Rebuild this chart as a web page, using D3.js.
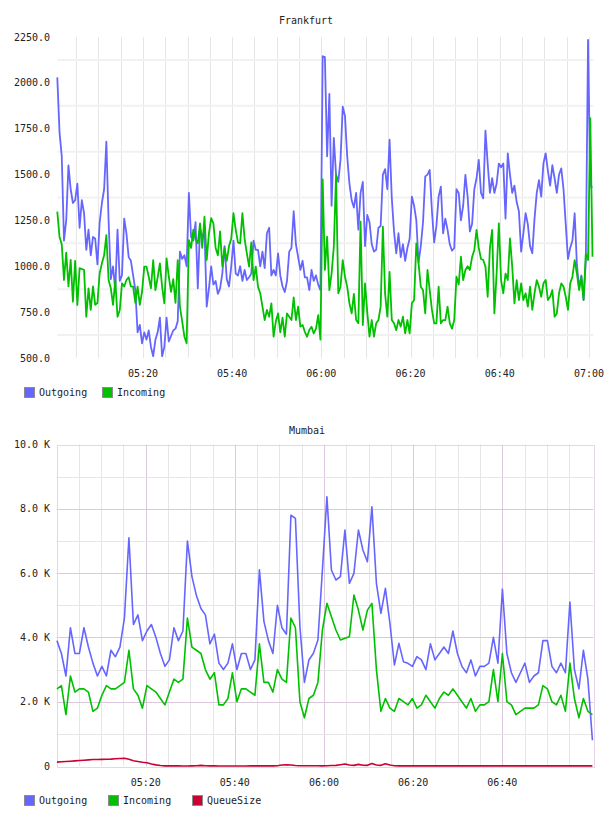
<!DOCTYPE html>
<html><head><meta charset="utf-8">
<script src="https://cdn.jsdelivr.net/npm/d3@7"></script>
<style>
body{margin:0;background:#fff}
svg{display:block}
text{font-family:"DejaVu Sans Mono",monospace;font-size:10px;fill:#222}
</style>
</head><body>
<svg id="c" width="608" height="816"></svg>
<script>
// ---------- Frankfurt (30 s samples) ----------
const frankfurtStart = "05:00:48";
const frankfurtEnd = "07:00:48";
const frankfurtStepSec = 30;
const frankfurtOutgoing = [
2030,1730,1600,1140,1250,1550,1420,1345,1360,1450,
1210,1360,1290,1090,1200,1060,1160,1150,1010,1240,
1345,1420,1680,1250,930,1000,870,1200,920,950,
1260,1180,1050,1030,950,870,640,680,580,640,
600,650,560,510,600,640,720,510,560,720,
590,620,650,660,700,1080,1040,1060,1000,1400,
1160,1140,1240,880,1210,1150,1200,780,880,1000,
900,920,850,880,960,1110,930,890,1000,1140,
960,950,1000,920,980,925,940,960,1140,1090,
1090,1000,1080,990,1180,1210,950,980,950,1070,
950,890,860,920,1080,1100,1300,1120,1050,980,
1030,940,940,870,980,920,950,900,870,2145,
2140,1600,1940,1330,1700,1500,1460,1580,1870,1820,
1600,1450,1360,1320,1400,1200,1400,1460,1110,1280,
1240,1120,1080,1090,1210,1220,1500,1530,1420,1690,
1370,1190,1070,1180,1050,1120,1030,1100,1150,1380,
1330,1250,1020,1110,1240,1490,1500,1525,1300,1130,
1220,1380,1434,1180,1260,1200,1120,1085,1100,1420,
1400,1250,1330,1498,1380,1190,1230,1420,1480,1580,
1400,1370,1740,1560,1400,1480,1400,1450,1560,1540,
1560,1260,1616,1500,1400,1440,1350,1300,1080,1180,
1290,1230,1110,1071,1260,1400,1470,1380,1561,1616,
1520,1440,1552,1480,1400,1500,1534,1420,1230,1040,
1100,1140,1289,1010,880,950,816,1030,2234,1434,
1430];
const frankfurtIncoming = [
1298,1160,1120,925,1075,890,1035,807,1030,789,
990,985,980,725,880,762,890,790,800,962,
1016,1060,1170,925,880,790,925,725,760,907,
890,925,940,890,889,800,889,790,860,998,
998,943,880,1034,870,940,1016,889,798,1043,
943,860,930,800,1034,780,700,616,580,1143,
1100,1200,1150,1125,1234,1100,1270,1034,1180,1262,
1234,1100,1060,1190,1000,1100,1030,1110,1150,1290,
1200,1130,1125,1290,1150,1070,998,1130,925,998,
889,853,780,707,762,725,798,616,700,743,
640,720,616,743,725,707,830,707,780,671,
680,643,616,653,670,634,660,734,600,1474,
980,1161,870,960,1107,1498,853,889,1034,943,
889,798,743,850,707,690,1243,680,907,750,
616,707,616,690,707,780,1216,850,725,970,
707,689,652,707,671,725,634,707,634,798,
816,1125,1016,889,870,743,980,870,762,689,
689,889,689,707,707,780,689,660,707,943,
900,1052,925,980,1000,980,1050,1089,1198,1100,
1040,1034,998,834,1100,1198,743,960,1234,925,
853,960,925,1152,998,798,925,816,907,816,
853,780,889,762,853,925,889,834,907,925,
816,834,870,725,743,853,907,889,834,762,
907,943,1034,960,870,943,816,1070,1034,1807,
1052];
const frankfurtYTicks = [500,750,1000,1250,1500,1750,2000,2250];
const frankfurtXTicks = ["05:20","05:40","06:00","06:20","06:40","07:00"];

// ---------- Mumbai (about 1 min samples) ----------
const mumbaiAxisStart = "05:00:00";
const mumbaiAxisEnd = "07:00:00";
const mumbaiStart = "05:00:05";
const mumbaiStepSec = 60.57;
const mumbaiOutgoing = [
3900,3500,2800,4300,3500,3500,4300,3700,3200,2800,
3100,2800,3600,3400,3700,4600,7100,4400,4700,3900,
4200,4400,4000,3500,3100,3300,4300,3900,4200,7000,
5900,5300,4900,4700,3800,4100,3200,3000,3200,3800,
3000,3500,3500,3000,3300,6100,4500,3900,3500,5000,
4300,4100,7800,7700,4333,2600,3297,3505,3919,6096,
8375,6096,5785,5888,7340,5682,5993,7340,6718,6355,
8064,5682,4749,5527,4438,3141,3816,3245,3193,3100,
3400,3300,3000,3800,3300,3500,3700,3500,4200,3500,
3100,2900,3300,2800,3100,3100,3200,4000,3200,5500,
3500,2900,2600,2900,3200,2600,2800,2900,3900,3900,
3100,2900,3200,2900,5100,3000,2400,3600,2700,800];
const mumbaiIncoming = [
2400,2500,1600,2800,2300,2400,2400,2300,1700,1800,
2200,2500,2400,2400,2500,2600,3600,2400,2200,1800,
2500,2400,2300,2100,1900,2300,2700,2600,2700,4600,
3700,3600,3500,3000,2700,2900,1900,1900,2100,2900,
2000,2400,2400,2300,2200,3800,2600,2600,2300,3000,
2700,2600,4600,4300,2000,1500,2100,2200,2600,4230,
5060,4640,4230,3920,3970,4020,5320,4850,4230,4850,
5060,3000,1700,2100,1800,1700,2100,2000,1900,2100,
1800,1900,2200,2000,1800,2100,2300,2200,2400,2200,
2000,1800,2100,1700,1900,1900,2000,3000,2000,3500,
2000,1900,1600,1700,1800,1800,1800,1900,2500,2400,
2000,1900,2200,1700,3200,2100,1500,2100,1700,1600];
const mumbaiQueueSize = [
120,130,140,150,160,170,180,190,200,200,
205,210,215,225,235,240,210,165,140,115,
100,65,35,15,5,4,3,3,2,2,
5,10,20,10,4,3,2,2,2,2,
2,2,2,3,3,3,3,4,5,10,
30,40,30,15,8,6,10,10,6,5,
8,15,20,40,60,30,20,50,25,20,
80,30,20,70,30,10,5,4,3,3,
3,3,3,3,3,3,3,3,5,5,
3,3,3,3,3,3,3,3,3,3,
3,3,3,3,3,3,3,3,3,3,
3,3,3,3,3,3,3,3,3,3];
const mumbaiYTicks = [0,2000,4000,6000,8000,10000];
const mumbaiYLabels = ["0","2.0 K","4.0 K","6.0 K","8.0 K","10.0 K"];
const mumbaiXTicks = ["05:20","05:40","06:00","06:20","06:40"];

const seriesColors = {Outgoing:"#6666ff", Incoming:"#00c000", QueueSize:"#cc0033"};

// ---------- helpers ----------
const parseT = d3.timeParse("%H:%M:%S");
const parseHM = d3.timeParse("%H:%M");
function times(start, step, n){
  const t0 = parseT(start).getTime();
  return d3.range(n).map(i => new Date(t0 + i*step*1000));
}
const svg = d3.select("#c");

function legend(g, names, xs, y){
  names.forEach((n,i)=>{
    g.append("rect").attr("x",xs[i]+0.5).attr("y",y+0.5).attr("width",10).attr("height",10)
      .attr("fill",seriesColors[n]).attr("stroke","#8c8c8c").attr("stroke-width",1);
    g.append("text").attr("x",xs[i]+15).attr("y",y+5.5).attr("dy","0.35em").text(n);
  });
}

// ---------- Frankfurt ----------
(function(){
  const L=57.3, R=592.5, T=37, B=358;
  const x = d3.scaleTime().domain([parseT(frankfurtStart), parseT(frankfurtEnd)]).range([L,R]);
  const y = d3.scaleLinear().domain([frankfurtYTicks[0], frankfurtYTicks[frankfurtYTicks.length-1]]).range([B,T]);
  const g = svg.append("g");
  g.append("text").attr("x",306).attr("y",20).attr("dy","0.35em").attr("text-anchor","middle").text("Frankfurt");
  // grid
  const vt = x.ticks(d3.timeMinute.every(5));
  g.selectAll(".vg").data(vt).join("line")
    .attr("x1",d=>Math.round(x(d))+0.5).attr("x2",d=>Math.round(x(d))+0.5)
    .attr("y1",T).attr("y2",B).attr("stroke","#e6e6e6").attr("stroke-width",1);
  const mids = d3.pairs(frankfurtYTicks).map(([a,b])=>(a+b)/2);
  g.selectAll(".hg").data(mids).join("line")
    .attr("x1",L).attr("x2",R+1).attr("y1",d=>y(d)).attr("y2",d=>y(d))
    .attr("stroke","#f1f1f1").attr("stroke-width",2);
  // axes labels
  g.selectAll(".yl").data(frankfurtYTicks).join("text")
    .attr("x",50).attr("y",d=>y(d)).attr("dy","0.35em").attr("text-anchor","end")
    .text(d=>d3.format(".1f")(d));
  g.selectAll(".xl").data(frankfurtXTicks).join("text")
    .attr("x",d=>x(new Date(parseHM(d).getTime()))).attr("y",373).attr("dy","0.35em")
    .attr("text-anchor","middle").text(d=>d);
  // lines
  const ts = times(frankfurtStart, frankfurtStepSec, frankfurtOutgoing.length);
  const line = d3.line().x((d,i)=>x(ts[i])).y(d=>y(d));
  g.append("path").datum(frankfurtOutgoing).attr("d",line).attr("fill","none")
    .attr("stroke",seriesColors.Outgoing).attr("stroke-width",1.8).attr("stroke-linejoin","round");
  g.append("path").datum(frankfurtIncoming).attr("d",line).attr("fill","none")
    .attr("stroke",seriesColors.Incoming).attr("stroke-width",1.8).attr("stroke-linejoin","round");
  legend(g, ["Outgoing","Incoming"], [24,102], 387);
})();

// ---------- Mumbai ----------
(function(){
  const L=56.55, R=591.45, T=444.5, B=766, RE=593.3;
  const x = d3.scaleTime().domain([parseT(mumbaiAxisStart), parseT(mumbaiAxisEnd)]).range([L,R]);
  const y = d3.scaleLinear().domain([mumbaiYTicks[0], mumbaiYTicks[mumbaiYTicks.length-1]]).range([B,T]);
  const g = svg.append("g");
  g.append("text").attr("x",307).attr("y",430).attr("dy","0.35em").attr("text-anchor","middle").text("Mumbai");
  const vt = x.ticks(d3.timeMinute.every(5)).filter(d=>x(d)>L+2 && x(d)<R-1);
  g.selectAll(".vg").data(vt).join("line")
    .attr("x1",d=>Math.round(x(d))+0.5).attr("x2",d=>Math.round(x(d))+0.5)
    .attr("y1",T).attr("y2",B)
    .attr("stroke",d=>d.getMinutes()%20===0?"#dcc8dc":"#e6e6e6").attr("stroke-width",1);
  const hv = d3.range(1000,10000,1000);
  g.selectAll(".hg").data(hv).join("line")
    .attr("x1",L).attr("x2",RE).attr("y1",d=>Math.round(y(d))+0.5).attr("y2",d=>Math.round(y(d))+0.5)
    .attr("stroke",d=>d%2000===0?"#dcc8dc":"#e6e6e6").attr("stroke-width",1);
  g.append("rect").attr("x",Math.round(L)+0.5).attr("y",Math.round(T)+0.5)
    .attr("width",Math.round(RE-L)).attr("height",Math.round(B-T))
    .attr("fill","none").attr("stroke","#e8d4e8").attr("stroke-width",1);
  g.selectAll(".yl").data(mumbaiYTicks).join("text")
    .attr("x",50).attr("y",d=>y(d)).attr("dy","0.35em").attr("text-anchor","end")
    .text((d,i)=>mumbaiYLabels[i]);
  g.selectAll(".xl").data(mumbaiXTicks).join("text")
    .attr("x",d=>x(parseHM(d))).attr("y",782).attr("dy","0.35em")
    .attr("text-anchor","middle").text(d=>d);
  const ts = times(mumbaiStart, mumbaiStepSec, mumbaiOutgoing.length);
  const line = d3.line().x((d,i)=>x(ts[i])).y(d=>y(d));
  [["Outgoing",mumbaiOutgoing],["Incoming",mumbaiIncoming],["QueueSize",mumbaiQueueSize]].forEach(([n,arr])=>{
    g.append("path").datum(arr).attr("d",line).attr("fill","none")
      .attr("stroke",seriesColors[n]).attr("stroke-width",1.6).attr("stroke-linejoin","round");
  });
  legend(g, ["Outgoing","Incoming","QueueSize"], [24,108,192], 795);
})();
</script>
</body></html>
